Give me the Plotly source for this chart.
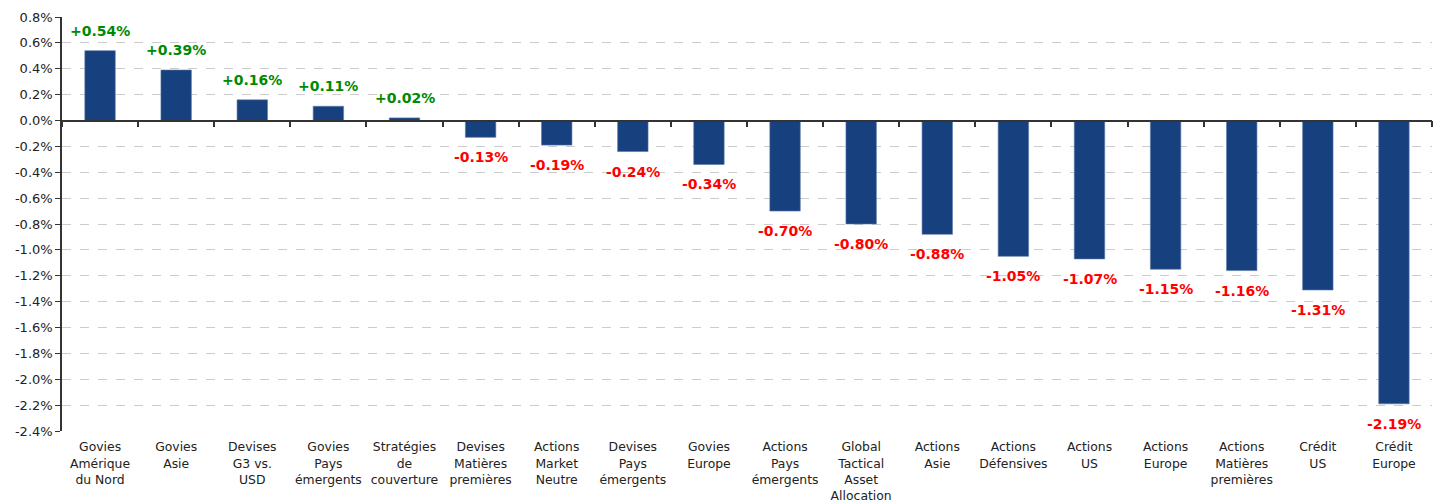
import plotly.graph_objects as go

categories = [
    "Govies<br>Amérique<br>du Nord", "Govies<br>Asie", "Devises<br>G3 vs.<br>USD",
    "Govies<br>Pays<br>émergents", "Stratégies<br>de<br>couverture",
    "Devises<br>Matières<br>premières", "Actions<br>Market<br>Neutre",
    "Devises<br>Pays<br>émergents", "Govies<br>Europe", "Actions<br>Pays<br>émergents",
    "Global<br>Tactical<br>Asset<br>Allocation", "Actions<br>Asie", "Actions<br>Défensives",
    "Actions<br>US", "Actions<br>Europe", "Actions<br>Matières<br>premières",
    "Crédit<br>US", "Crédit<br>Europe",
]
values = [0.54, 0.39, 0.16, 0.11, 0.02, -0.13, -0.19, -0.24, -0.34, -0.70,
          -0.80, -0.88, -1.05, -1.07, -1.15, -1.16, -1.31, -2.19]
y_ticks = [0.8 - 0.2 * i for i in range(17)]

FONT = "Verdana, DejaVu Sans, sans-serif"
x_idx = list(range(len(categories)))

fig = go.Figure()
fig.add_trace(go.Bar(
    x=x_idx, y=values, width=0.4,
    marker=dict(color="#17407E", line=dict(color="#5a78a8", width=0.6)),
    hoverinfo="skip", showlegend=False,
))

for i, v in enumerate(values):
    fig.add_annotation(
        x=i, y=v, text=f"{v:+.2f}%", showarrow=False,
        yshift=20 if v >= 0 else -20, yanchor="middle",
        font=dict(family=FONT, size=14, color="#008A00" if v >= 0 else "#FF0000", weight="bold"),
    )

# page body has an 8px margin, so the figure is sized 8px smaller
fig.update_layout(
    width=1434, height=496,
    margin=dict(l=54, r=10, t=9, b=73),
    plot_bgcolor="white", paper_bgcolor="white",
    bargap=0.6,
    font=dict(family=FONT, size=13, color="#222222"),
    xaxis=dict(
        tickvals=x_idx, ticktext=categories, range=[-0.5, len(categories) - 0.5],
        showline=False, showgrid=False, zeroline=False, ticks="",
        ticklabelstandoff=7, automargin=False,
        tickfont=dict(family=FONT, size=12.4, color="#222222"),
    ),
    xaxis2=dict(
        overlaying="x", anchor="free", position=0.75, range=[-0.5, len(categories) - 0.5],
        tickvals=[i - 0.5 for i in range(len(categories) + 1)],
        showticklabels=False, showline=True, linecolor="#333333", linewidth=1.5,
        ticks="outside", ticklen=6, tickcolor="#333333", tickwidth=1.5,
        showgrid=False, zeroline=False, automargin=False,
    ),
    yaxis=dict(
        range=[-2.4, 0.8], tickvals=y_ticks, ticktext=[f"{t:.1f}%".replace("-0.0", "0.0") for t in y_ticks],
        showgrid=True, gridcolor="#CCCCCC", griddash="dash", gridwidth=1,
        showline=True, linecolor="#333333", linewidth=1.5,
        ticks="outside", ticklen=5, tickcolor="#333333",
        zeroline=False, automargin=False,
        tickfont=dict(family=FONT, size=13, color="#222222"),
    ),
)
# invisible trace to activate xaxis2
fig.add_trace(go.Scatter(x=[0], y=[0], xaxis="x2", mode="markers",
                         marker=dict(opacity=0), hoverinfo="skip", showlegend=False))

fig.write_html("out.html")
